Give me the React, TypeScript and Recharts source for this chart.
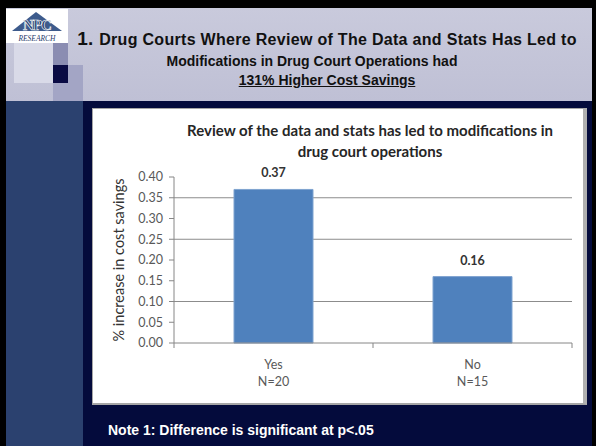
import { BarChart, Bar, XAxis, YAxis, CartesianGrid, LabelList } from "recharts";

const categories = ["Yes", "No"];
const sampleSizes = ["N=20", "N=15"];
const savings = [0.37, 0.16];
const yTicks = [0, 0.05, 0.1, 0.15, 0.2, 0.25, 0.3, 0.35, 0.4];
const gridValues = [0.1, 0.25, 0.35];

const data = categories.map((name, i) => ({ name, n: sampleSizes[i], value: savings[i] }));

const CHART_W = 495;
const CHART_H = 297;
const MARGIN = { top: 69, right: 15, left: 0, bottom: 22 };
const Y_W = 82;
const HALF_BAND = (CHART_W - MARGIN.left - MARGIN.right - Y_W) / categories.length / 2;
const FONT = "Lato, 'Open Sans', sans-serif";

const XTick = (props: any) => {
  const { x, y, payload, index } = props;
  const row = data[index];
  const axisY = y - 5;
  return (
    <g>
      <line x1={x - HALF_BAND} x2={x - HALF_BAND} y1={axisY} y2={axisY + 5} stroke="#868686" />
      {index === data.length - 1 && (
        <line x1={x + HALF_BAND} x2={x + HALF_BAND} y1={axisY} y2={axisY + 5} stroke="#868686" />
      )}
      <text x={x} y={axisY + 26} textAnchor="middle" fontSize={12.5} fill="#595959" fontFamily={FONT}>
        {payload.value}
      </text>
      <text x={x} y={axisY + 43} textAnchor="middle" fontSize={12.5} fill="#595959" fontFamily={FONT}>
        {row ? row.n : ""}
      </text>
    </g>
  );
};

const YLabel = (props: any) => {
  const vb = props.viewBox || { x: 0, y: 0, height: 0 };
  const cx = vb.x + 26;
  const cy = vb.y + vb.height / 2;
  return (
    <text
      x={cx}
      y={cy}
      transform={`rotate(-90 ${cx} ${cy})`}
      textAnchor="middle"
      dominantBaseline="central"
      fontSize={14.5}
      fill="#333"
      fontFamily={FONT}
    >
      % increase in cost savings
    </text>
  );
};

const box = (left: number, top: number, width: number, height: number, bg: string) => (
  <div style={{ position: "absolute", left, top, width, height, background: bg }} />
);

export default function App() {
  return (
    <div style={{ position: "relative", width: 596, height: 446, overflow: "hidden", background: "#000" }}>
      <style>{`body{margin:0}`}</style>
      {box(6, 8, 586, 438, "#040b3c")}
      {box(6, 65, 77, 381, "#2b416f")}
      <div
        style={{
          position: "absolute",
          left: 6,
          top: 8,
          width: 586,
          height: 93,
          background: "linear-gradient(180deg, #c9cadc 0%, #bfc0d5 100%)",
        }}
      />
      {box(6, 9, 62, 34, "#ffffff")}
      {box(14, 43, 39, 40, "#d9dae8")}
      {box(53, 43, 15, 22, "#8b8db2")}
      {box(53, 65, 30, 36, "#a3a5c5")}
      {box(53, 65, 15, 18, "#0a0b44")}
      <svg style={{ position: "absolute", left: 6, top: 9 }} width={62} height={34}>
        <polygon points="6,22 30,3 56,22" fill="#3d5b8c" />
        <text
          x={31}
          y={21}
          textAnchor="middle"
          fontFamily="'Liberation Serif', serif"
          fontWeight="bold"
          fontSize={15}
          fill="#1f3a6b"
          stroke="#ffffff"
          strokeWidth={0.6}
          letterSpacing={-1}
        >
          NPC
        </text>
        <text
          x={31}
          y={32}
          textAnchor="middle"
          fontFamily="'Liberation Serif', serif"
          fontStyle="italic"
          fontSize={7.5}
          fill="#1f3a6b"
        >
          RESEARCH
        </text>
      </svg>

      <div
        style={{
          position: "absolute",
          left: 70,
          top: 29,
          width: 514,
          textAlign: "center",
          fontFamily: "'Liberation Sans', Arial, sans-serif",
          fontWeight: "bold",
          fontSize: 14,
          lineHeight: "21px",
          color: "#111",
        }}
      >
        <div style={{ fontSize: 16, letterSpacing: 0.3, lineHeight: "22px", marginTop: -1 }}>
          <span style={{ fontSize: 19 }}>1. </span>Drug Courts Where Review of The Data and Stats Has Led to
        </div>
        <div style={{ marginRight: 30 }}>Modifications in Drug Court Operations had</div>
        <div style={{ textDecoration: "underline", marginTop: -2 }}>131% Higher Cost Savings</div>
      </div>

      <div
        style={{
          position: "absolute",
          left: 92,
          top: 108,
          width: 495,
          height: 297,
          boxSizing: "border-box",
          background: "#fff",
          borderTop: "1px solid #a6a6a6",
          borderLeft: "1px solid #a6a6a6",
          borderBottom: "2px solid #a6a6a6",
          borderRight: "4px solid #b0b0b0",
        }}
      />
      <div
        style={{
          position: "absolute",
          left: 170,
          top: 120,
          width: 400,
          textAlign: "center",
          fontFamily: FONT,
          fontWeight: "bold",
          fontSize: 15,
          lineHeight: "21px",
          color: "#262626",
        }}
      >
        Review of the data and stats has led to modifications in
        <br />
        drug court operations
      </div>
      <div style={{ position: "absolute", left: 92, top: 108 }}>
        <BarChart width={CHART_W} height={CHART_H} data={data} margin={MARGIN}>
          <CartesianGrid horizontal vertical={false} horizontalValues={gridValues} stroke="#8c8c8c" />
          <XAxis
            dataKey="name"
            height={40}
            tick={<XTick />}
            tickLine={false}
            tickSize={5}
            tickMargin={0}
            axisLine={{ stroke: "#868686" }}
            interval={0}
          />
          <YAxis
            width={Y_W}
            domain={[0, 0.4]}
            ticks={yTicks}
            interval={0}
            tickFormatter={(v: number) => v.toFixed(2)}
            tick={{ fontSize: 12.5, fill: "#595959", fontFamily: FONT }}
            tickSize={5}
            tickMargin={6}
            axisLine={{ stroke: "#868686" }}
            tickLine={{ stroke: "#868686" }}
            label={{ content: <YLabel /> }}
          />
          <Bar dataKey="value" fill="#4f81bd" stroke="#7fa3d0" barSize={79} isAnimationActive={false}>
            <LabelList
              dataKey="value"
              position="top"
              offset={12}
              formatter={(v: any) => Number(v).toFixed(2)}
              style={{ fontSize: 12.5, fontWeight: "bold", fill: "#333", fontFamily: FONT }}
            />
          </Bar>
        </BarChart>
      </div>

      <div
        style={{
          position: "absolute",
          left: 108,
          top: 422,
          fontFamily: "'Liberation Sans', Arial, sans-serif",
          fontWeight: "bold",
          fontSize: 14,
          color: "#fff",
        }}
      >
        Note 1: Difference is significant at p&lt;.05
      </div>
    </div>
  );
}
